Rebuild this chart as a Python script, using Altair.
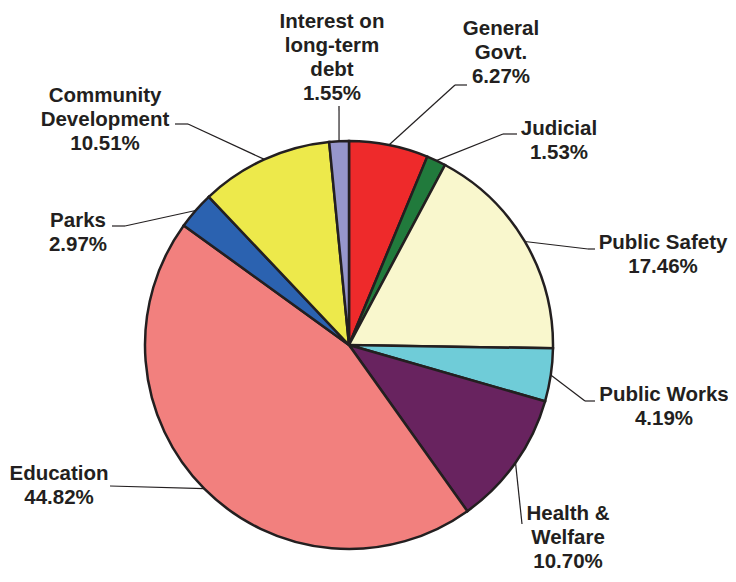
import altair as alt
import pandas as pd

# ---- data ----
names = ["General Govt.", "Judicial", "Public Safety", "Public Works",
         "Health & Welfare", "Education", "Parks", "Community Development",
         "Interest on long-term debt"]
values = [6.27, 1.53, 17.46, 4.19, 10.70, 44.82, 2.97, 10.51, 1.55]
label_lines = ["General\nGovt.", "Judicial", "Public Safety", "Public Works",
               "Health &\nWelfare", "Education", "Parks", "Community\nDevelopment",
               "Interest on\nlong-term\ndebt"]
colors = ["#EE2A2B", "#217A3C", "#F9F7CD", "#6FCCD8", "#68235F",
          "#F2807E", "#2B62B0", "#EDE94B", "#9696CC"]

# ---- layout (page pixels) ----
CX, CY, R = 349, 345, 204
label_x = [501, 559, 663, 664, 568, 59, 78, 105, 332]
label_y = [35, 135, 249, 401, 520, 480, 227, 102, 28]
elbow_x = [455, 503, 588, 585, 522, 110, 125, 188, 339]
elbow_y = [85, 134, 249, 401, 524, 486, 226, 124, 106]
hook_x = [467, 517, 595, 595, 522, 110, 112, 175, 339]

df = pd.DataFrame({
    "idx": list(range(len(names))),
    "name": names,
    "value": values,
    "label": [f"{l}\n{v:.2f}%" for l, v in zip(label_lines, values)],
    "lx": label_x, "ly": label_y,
    "bx": elbow_x, "by": elbow_y, "hx": hook_x,
})

ink = "#231F20"
W, H = 720, 566
xs = alt.Scale(domain=[8, 8 + W], nice=False, zero=False)
ys = alt.Scale(domain=[8, 8 + H], reverse=True, nice=False, zero=False)

base = alt.Chart(df)

pie = base.mark_arc(radius=R, stroke=ink, strokeWidth=2.5).encode(
    theta=alt.Theta("value:Q", stack=True),
    color=alt.Color("name:N", scale=alt.Scale(domain=names, range=colors), legend=None),
    order=alt.Order("idx:Q"),
    x=alt.value(CX - 8),
    y=alt.value(CY - 8),
)

geo = base.transform_window(
    cum="sum(value)", sort=[alt.SortField("idx")], frame=[None, 0]
).transform_joinaggregate(total="sum(value)").transform_calculate(
    mid="(datum.cum - datum.value/2) / datum.total * 2 * PI",
    ex=f"{CX} + {R} * sin(datum.mid)",
    ey=f"{CY} - {R} * cos(datum.mid)",
)

lead1 = geo.mark_rule(color=ink, strokeWidth=1.2).encode(
    x=alt.X("ex:Q", scale=xs, axis=None),
    y=alt.Y("ey:Q", scale=ys, axis=None),
    x2="bx:Q",
    y2="by:Q",
)

lead2 = base.mark_rule(color=ink, strokeWidth=1.2).encode(
    x=alt.X("bx:Q", scale=xs, axis=None),
    y=alt.Y("by:Q", scale=ys, axis=None),
    x2="hx:Q",
    y2="by:Q",
)

labels = base.mark_text(
    font="Liberation Sans", fontWeight="bold", fontSize=20.5, lineBreak="\n",
    lineHeight=24, align="center", baseline="alphabetic", color=ink,
).encode(
    x=alt.X("lx:Q", scale=xs, axis=None),
    y=alt.Y("ly:Q", scale=ys, axis=None),
    text="label:N",
)

chart = alt.layer(lead1, lead2, pie, labels).properties(
    width=W, height=H, padding=0,
    autosize=alt.AutoSizeParams(type="none"),
    background="white",
).configure_view(stroke=None)

chart.save("out.html", embed_options={"renderer": "svg", "actions": False})
